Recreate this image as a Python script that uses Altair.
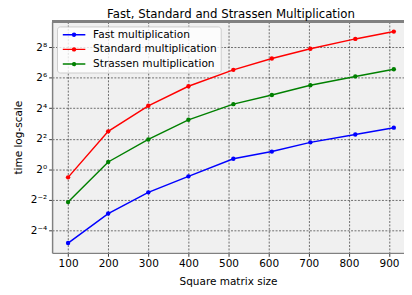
import json
import altair as alt
import pandas as pd

# ---- data ----
sizes = [100, 200, 300, 400, 512, 608, 704, 816, 912]
fast = [0.0348, 0.133, 0.349, 0.722, 1.61, 2.23, 3.39, 4.85, 6.62]
standard = [0.69, 5.6, 17.9, 43.6, 91.8, 154, 240, 375, 523]
strassen = [0.224, 1.39, 3.87, 9.46, 19.3, 29.2, 45.6, 68.1, 94.4]
series_names = ["Fast multiplication", "Standard multiplication", "Strassen multiplication"]
series_colors = ["#0000ff", "#ff0000", "#008000"]
x_ticks = [100, 200, 300, 400, 500, 600, 700, 800, 900]
y_tick_exps = [-4, -2, 0, 2, 4, 6, 8]
y_tick_labels = ["2⁻⁴", "2⁻²", "2⁰", "2²", "2⁴", "2⁶", "2⁸"]

rows = []
for name, vals in zip(series_names, [fast, standard, strassen]):
    for s, v in zip(sizes, vals):
        rows.append({"size": s, "time": v, "series": name})
df = pd.DataFrame(rows)

W, H = 359, 236
x_dom = [60.2, 937.4]
y_dom = [2 ** -5.49, 2 ** 9.69]

label_expr = json.dumps(y_tick_labels, ensure_ascii=False) + "[round(log(datum.value)/LN2/2)+2]"

FONT = "DejaVu Sans"
# line with a dot in its middle (scaled by sqrt(symbolSize)/2 = 2.5 px per unit)
legend_symbol = ("M-1,0H8.2"
                 "M4.2,0A0.6,0.6,0,1,1,3.0,0A0.6,0.6,0,1,1,4.2,0"
                 "M3.88,0A0.28,0.28,0,1,1,3.32,0A0.28,0.28,0,1,1,3.88,0")

lines = alt.Chart(df).mark_line(
    strokeWidth=1.5,
    point=alt.OverlayMarkDef(filled=True, size=20),
).encode(
    x=alt.X("size:Q", scale=alt.Scale(domain=x_dom, nice=False, zero=False),
            axis=alt.Axis(values=x_ticks, title="Square matrix size", titlePadding=9)),
    y=alt.Y("time:Q", scale=alt.Scale(type="log", base=2, domain=y_dom, nice=False),
            axis=alt.Axis(values=[2 ** e for e in y_tick_exps], labelExpr=label_expr,
                          title="time log-scale", titlePadding=7)),
    color=alt.Color("series:N",
                    scale=alt.Scale(domain=series_names, range=series_colors),
                    legend=alt.Legend(
                        title=None, orient="none", legendX=5, legendY=5, padding=3,
                        fillColor="rgba(255,255,255,0.8)", strokeColor="#cccccc",
                        cornerRadius=3, symbolType=legend_symbol, symbolSize=25,
                        symbolStrokeWidth=1.5, labelFontSize=10.8, labelFont=FONT,
                        labelOffset=23, rowPadding=3, labelLimit=300)),
)

top_frame = alt.Chart(df).mark_rule(color="#808080", strokeWidth=1.5).encode(
    x=alt.value(0), x2=alt.value(W), y=alt.value(0)
)

chart = alt.layer(lines, top_frame).properties(
    width=W, height=H,
    background="white",
    title=alt.TitleParams("Fast, Standard and Strassen Multiplication", fontSize=12,
                          font=FONT, fontWeight="normal", anchor="middle", dx=3,
                          offset=0),
    padding={"left": 45, "top": 11, "right": 0, "bottom": 32},
    autosize=alt.AutoSizeParams(type="none"),
).configure_view(
    fill="#f0f0f0", stroke=None
).configure_axis(
    labelFont=FONT, titleFont=FONT, labelFontSize=10.7, titleFontSize=10.7,
    titleFontWeight="normal", labelColor="#000", titleColor="#000",
    domainColor="#808080", domainWidth=1.5, tickColor="#000", tickSize=3.5,
    tickWidth=0.8, labelPadding=2,
    grid=True, gridColor="#000", gridOpacity=0.7, gridDash=[2, 1.5], gridWidth=0.8,
)

chart.save("out.html", embed_options={"renderer": "svg", "actions": False})
